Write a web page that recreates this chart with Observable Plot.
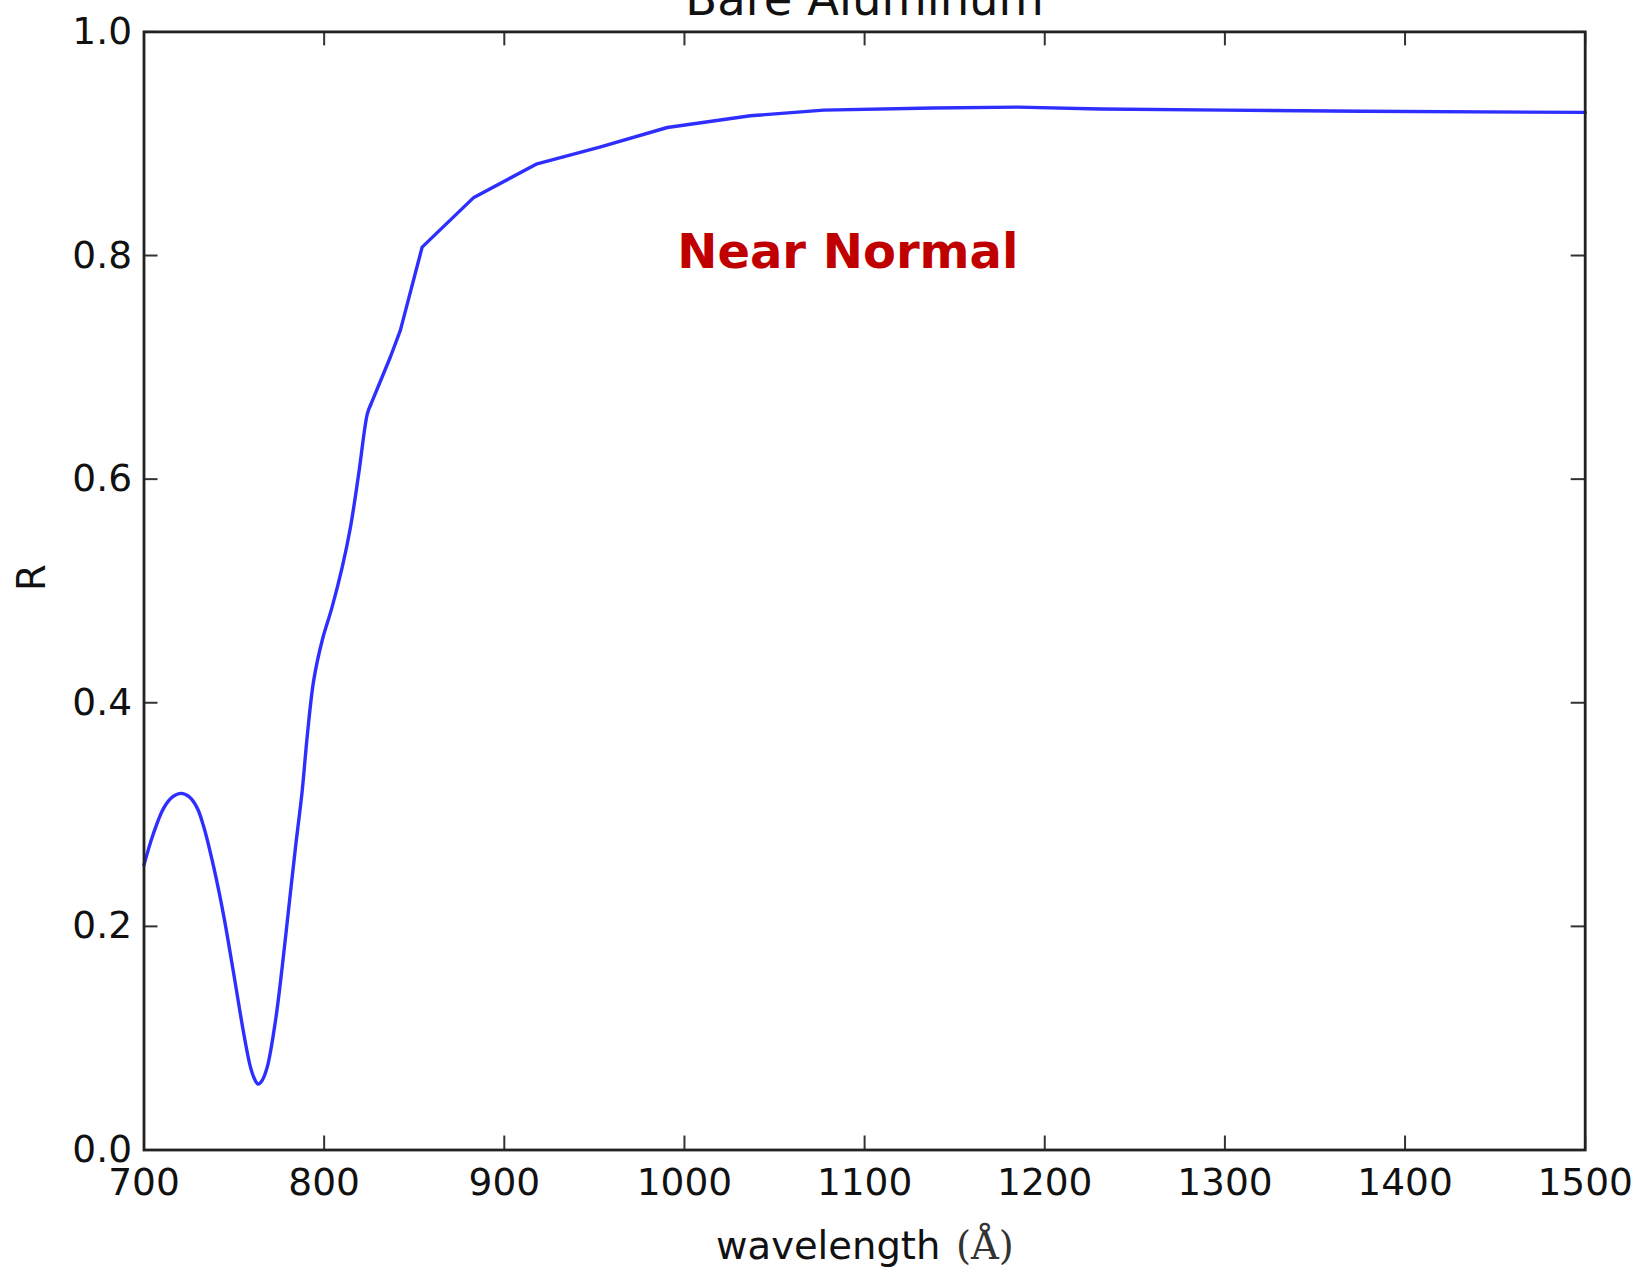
<!DOCTYPE html>
<html>
<head>
<meta charset="utf-8">
<script src="https://cdn.jsdelivr.net/npm/d3@7"></script>
<script src="https://cdn.jsdelivr.net/npm/@observablehq/plot@0.6"></script>
<style>
  html, body { margin: 0; padding: 0; background: #fff; }
  #chart svg { display: block; overflow: visible; }
</style>
</head>
<body>
<div id="chart"></div>
<script>
// Data
const wavelength = [700, 705, 711, 716, 720.6, 725, 729.5, 733.2, 738.7, 744.3, 749.8, 755.4, 759.1, 761.5, 763.3, 765.5, 768.4, 773.0, 776.7, 780.4, 784.1, 787.8, 790.6, 794.2, 798.9, 804.4, 810, 814.6, 819.2, 823.9, 825.7, 836.7, 842.3, 854.4, 883.1, 918.2, 953, 990.5, 1036.6, 1077.3, 1138, 1185, 1231, 1300, 1376, 1500];
const reflectance = [0.255, 0.282, 0.306, 0.316, 0.319, 0.316, 0.306, 0.2888, 0.2529, 0.209, 0.1576, 0.1039, 0.0741, 0.063, 0.059, 0.062, 0.0741, 0.1158, 0.1635, 0.2172, 0.2708, 0.321, 0.370, 0.42, 0.4557, 0.4855, 0.521, 0.557, 0.605, 0.658, 0.666, 0.709, 0.733, 0.8075, 0.852, 0.882, 0.897, 0.9145, 0.925, 0.930, 0.932, 0.9327, 0.931, 0.930, 0.929, 0.928];
const xTicks = [700, 800, 900, 1000, 1100, 1200, 1300, 1400, 1500];
const yTicks = [0.0, 0.2, 0.4, 0.6, 0.8, 1.0];
const titleText = "Bare Aluminum";
const xLabelText = "wavelength";
const xLabelUnit = "(Å)";
const yLabelText = "R";
const noteText = "Near Normal";
const noteX = 1090.7, noteY = 0.803;
const smoothUntil = 825.7; // the dip region is a smooth curve; beyond it the data is piecewise linear

const rows = wavelength.map((w, i) => ({w, r: reflectance[i]}));
const smoothRows = rows.filter(d => d.w <= smoothUntil);
const linearRows = rows.filter(d => d.w >= smoothUntil);

const W = 1643, H = 1273;
const mt = 31.4, mb = 123.5, ml = 143.5, mr = 58.3;
const fw = W - ml - mr, fh = H - mt - mb;
const tick = 14;
const fs = 37.5;
const lineStyle = {x: "w", y: "r", stroke: "#2e2eff", strokeWidth: 3.4, strokeLinejoin: "round", strokeLinecap: "round"};

const chart = Plot.plot({
  width: W,
  height: H,
  marginTop: mt,
  marginBottom: mb,
  marginLeft: ml,
  marginRight: mr,
  style: {fontFamily: "DejaVu Sans", fontSize: fs + "px", color: "#111", background: "#fff", overflow: "visible"},
  x: {domain: [700, 1500]},
  y: {domain: [0, 1]},
  marks: [
    Plot.axisX(xTicks, {anchor: "bottom", tickSize: 0, tickPadding: 18.5, fontSize: fs, label: null, tickFormat: d3.format("d"), fill: "#111"}),
    Plot.axisY(yTicks, {anchor: "left", tickSize: 0, tickPadding: 12, fontSize: fs, label: null, tickFormat: d3.format(".1f"), fill: "#111"}),
    // inward ticks on all four sides
    Plot.tickX(xTicks, {x: d => d, insetTop: fh - tick, stroke: "#333", strokeWidth: 2}),
    Plot.tickX(xTicks, {x: d => d, insetBottom: fh - tick, stroke: "#333", strokeWidth: 2}),
    Plot.tickY(yTicks, {y: d => d, insetRight: fw - tick, stroke: "#333", strokeWidth: 2}),
    Plot.tickY(yTicks, {y: d => d, insetLeft: fw - tick, stroke: "#333", strokeWidth: 2}),
    Plot.line(smoothRows, {...lineStyle, curve: "catmull-rom"}),
    Plot.line(linearRows, {...lineStyle, curve: "linear"}),
    Plot.frame({stroke: "#222", strokeWidth: 2.8}),
    Plot.text([noteText], {x: () => noteX, y: () => noteY, text: d => d, fill: "#c00000", fontWeight: "bold", fontSize: 48, fontFamily: "DejaVu Sans", textAnchor: "middle", lineAnchor: "middle"}),
    Plot.text([titleText], {frameAnchor: "top", text: d => d, dy: -31.8, fontSize: 46.5, fill: "#111", lineAnchor: "middle"}),
    Plot.text([yLabelText], {frameAnchor: "left", text: d => d, rotate: -90, dx: -111.8, fontSize: 38.5, fill: "#111", lineAnchor: "middle"}),
    Plot.text([xLabelText], {frameAnchor: "bottom", text: d => d, dx: 75.75, dy: 96.7, textAnchor: "end", fontSize: 38.5, fill: "#111", lineAnchor: "middle"}),
    Plot.text([xLabelUnit], {frameAnchor: "bottom", text: d => d, dx: 91.3, dy: 96.7, textAnchor: "start", fontSize: 38.5, fontFamily: "DejaVu Serif", fill: "#333", lineAnchor: "middle"})
  ]
});
document.getElementById("chart").appendChild(chart);
</script>
</body>
</html>
